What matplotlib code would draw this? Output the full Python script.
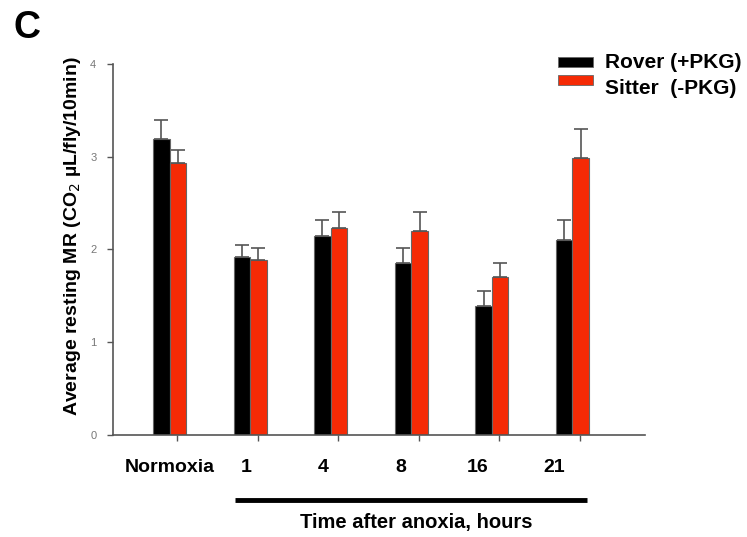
import numpy as np
import matplotlib
matplotlib.use("Agg")
import matplotlib.pyplot as plt
from matplotlib.patches import Rectangle

plt.rcParams['font.family'] = ['Liberation Sans', 'DejaVu Sans']

groups = ['Normoxia', '1', '4', '8', '16', '21']
rover = [3.19, 1.92, 2.14, 1.85, 1.39, 2.10]
rover_se = [0.21, 0.13, 0.18, 0.17, 0.16, 0.22]
sitter = [2.93, 1.89, 2.23, 2.20, 1.70, 2.99]
sitter_se = [0.14, 0.13, 0.17, 0.20, 0.15, 0.31]
yticks = [0, 1, 2, 3, 4]
legend_labels = ['Rover (+PKG)', 'Sitter  (-PKG)']

black = 'black'
red = '#f52a05'
edge = '#666666'

fig = plt.figure(figsize=(7.47, 5.37), dpi=100)
ax = fig.add_axes([0.1513, 0.19, 0.712, 0.691])

x = np.arange(len(groups))
w = 0.205
err_kw = dict(ecolor='#555555', elinewidth=1.2, capsize=5, capthick=1.2)

ax.bar(x - w + 0.01, rover, w, color=black, edgecolor=edge, linewidth=0.8,
       yerr=[np.zeros(len(rover)), rover_se], error_kw=err_kw)
ax.bar(x + 0.01, sitter, w, color=red, edgecolor=edge, linewidth=0.8,
       yerr=[np.zeros(len(sitter)), sitter_se], error_kw=err_kw)

ax.set_xlim(-0.794, 5.806)
ax.set_ylim(0, 4)
ax.set_yticks(yticks)
ax.set_yticklabels([str(t) for t in yticks], fontsize=8, color='#777777')
ax.set_xticks(x)
ax.set_xticklabels([])
ax.tick_params(axis='both', direction='out', length=4, width=1, color='#555555')
ax.tick_params(axis='y', pad=8)

for s in ['top', 'right']:
    ax.spines[s].set_visible(False)
for s in ['left', 'bottom']:
    ax.spines[s].set_color('#555555')
    ax.spines[s].set_linewidth(1.2)

# category labels sit a bit left of the ticks in the original
trans = ax.get_xaxis_transform()
label_x = x * 0.954 - 0.09
for lx, g in zip(label_x, groups):
    ax.text(lx, -0.089, g, transform=trans, ha='center', va='center',
            fontsize=14, fontweight='bold')

# bar under the anoxia time points
ax.plot([x[1] - 0.28, x[-1] + 0.09], [-0.175, -0.175], color='black', lw=3.5,
        transform=trans, clip_on=False, solid_capstyle='butt')
ax.text((x[1] + x[-1]) / 2 - 0.03, -0.237, 'Time after anoxia, hours',
        transform=trans, ha='center', va='center', fontsize=14.5,
        fontweight='bold')

ax.set_ylabel('Average resting MR (CO$_2$ µL/fly/10min)', fontsize=14,
              fontweight='bold')
ax.yaxis.set_label_coords(-0.056, 0.537)

# legend drawn by hand: the swatches are spaced tighter than the text rows
for i, (lab, col) in enumerate(zip(legend_labels, [black, red])):
    top = 57 + i * 18
    fig.patches.append(Rectangle((558 / 747, 1 - (top + 10) / 537), 35 / 747,
                                 10 / 537, transform=fig.transFigure,
                                 facecolor=col, edgecolor=edge, lw=0.6))
    fig.text(605 / 747, 1 - (62 + i * 26) / 537, lab, fontsize=15,
             fontweight='bold', va='center', ha='left')

fig.text(0.018, 0.947, 'C', fontsize=27, fontweight='bold', va='center')

fig.savefig('out.png', dpi=100)
